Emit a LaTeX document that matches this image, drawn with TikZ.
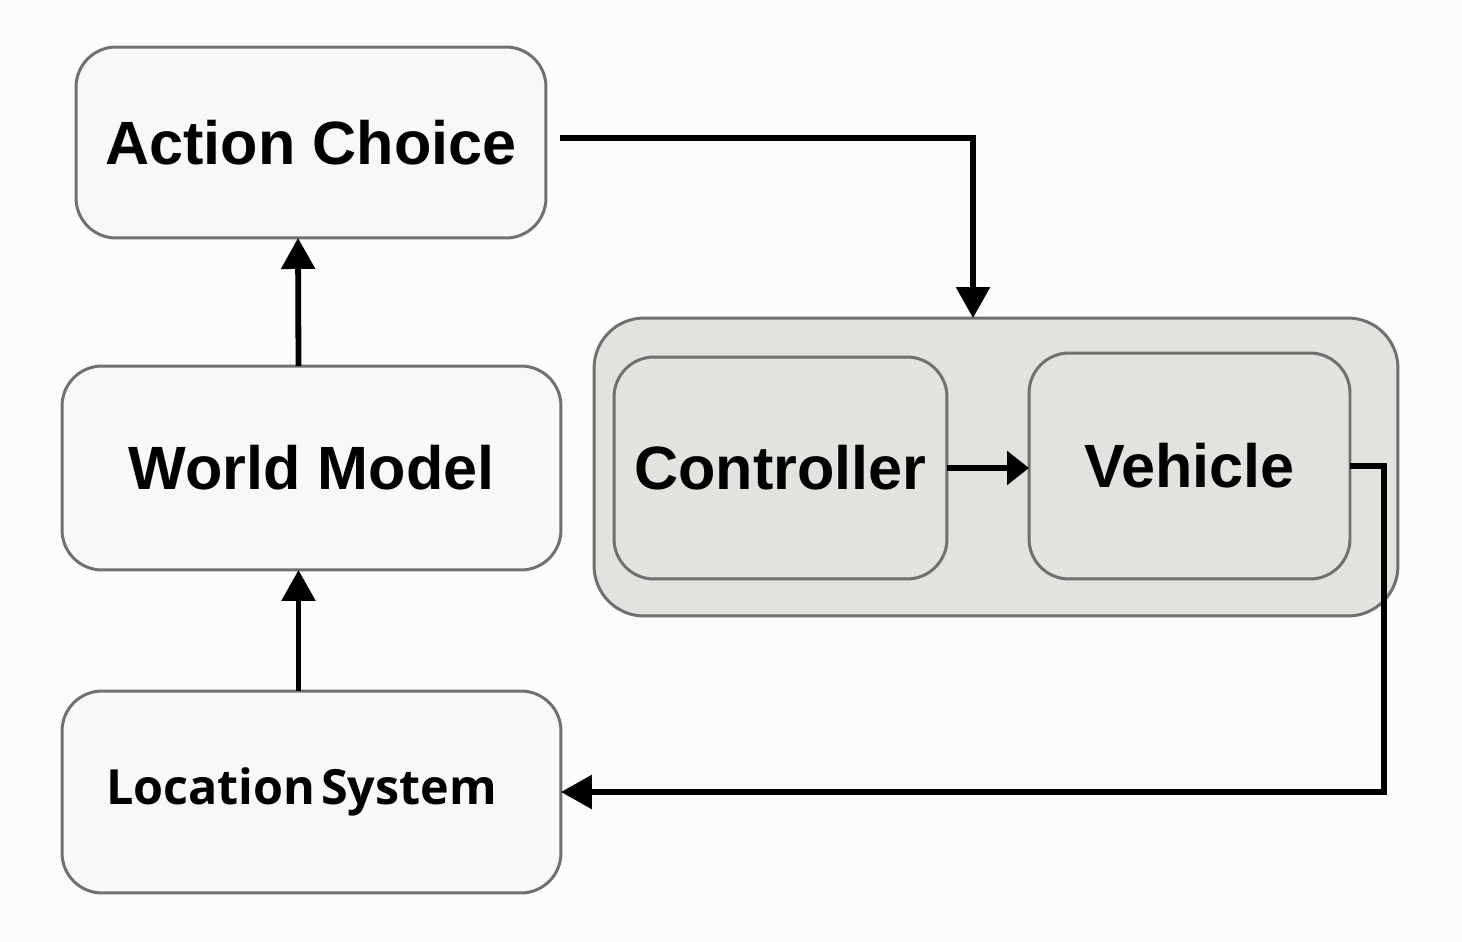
\documentclass[tikz,border=0pt]{standalone}
\usepackage{fontspec}
\setmainfont{Liberation Sans}
\newfontfamily\lsfont{Open Sans}
\usetikzlibrary{arrows.meta}

\definecolor{boxfill}{HTML}{F8F8F7}
\definecolor{boxline}{HTML}{707070}
\definecolor{grpfill}{HTML}{E2E2DF}

\begin{document}
\begin{tikzpicture}[x=0.02cm, y=-0.02cm,
    blk/.style={draw=boxline, line width=1.7pt, fill=boxfill, rounded corners=0.8cm,
                inner sep=0pt, outer sep=0pt, font=\fontsize{34.8}{40}\selectfont\bfseries},
    arr/.style={line width=3.3pt, -{Triangle[length=0.62cm, width=0.66cm]}}]
    \fill[white!99!black] (0,0) rectangle (1462,942);
    \useasboundingbox (0,0) rectangle (1462,942);
    %
    \node[blk, minimum width=9.4cm, minimum height=3.82cm] (ac) at (311,142.5) {Action Choice};
    \node[blk, minimum width=9.98cm, minimum height=4.08cm] (wm) at (311.5,468) {World Model};
    \node[blk, minimum width=9.98cm, minimum height=4.04cm,
          font=\lsfont\fontsize{27.6}{32}\selectfont\bfseries] (ls) at (311.5,792) {Location\hspace{0.12em}System\kern0.4cm};
    %
    \node[blk, fill=grpfill, rounded corners=1cm, minimum width=16.08cm, minimum height=5.96cm] (grp) at (996,467) {};
    \node[blk, fill=grpfill, minimum width=6.66cm, minimum height=4.44cm] (ctl) at (780.5,468) {Controller};
    \node[blk, fill=grpfill, minimum width=6.42cm, minimum height=4.52cm] (veh) at (1189.5,466) {Vehicle};
    %
    \draw[arr] ([xshift=-0.26cm]ls.north) -- ([xshift=-0.26cm]wm.south);
    \draw[arr] ([xshift=-0.26cm]wm.north) -- ([xshift=-0.26cm]ac.south);
    \draw[arr] ([xshift=0.28cm,yshift=0.09cm]ac.east) -| ([xshift=-0.46cm]grp.north);
    \draw[arr, -{Triangle[length=0.44cm, width=0.66cm]}] (ctl.east) -- (ctl.east -| veh.west);
    \draw[arr] (veh.east) -- ++(0.68cm,0) |- (ls.east);
\end{tikzpicture}
\end{document}
